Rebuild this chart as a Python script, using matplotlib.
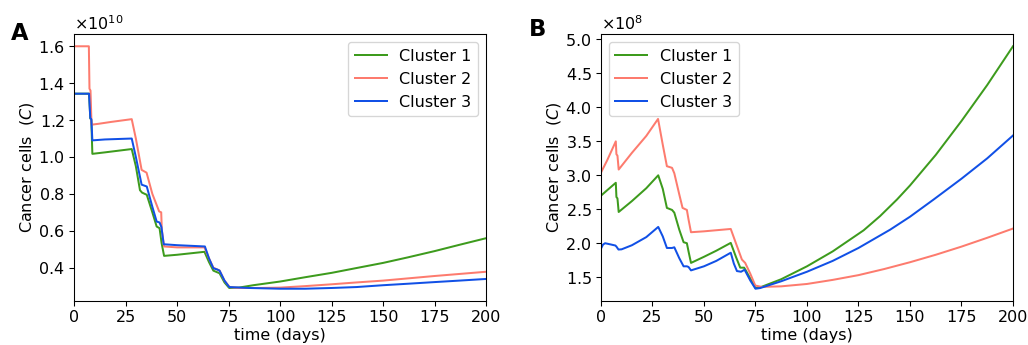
import numpy as np
import matplotlib
matplotlib.use('Agg')
import matplotlib.pyplot as plt
from matplotlib.ticker import ScalarFormatter

# Panel A: cancer cells (x1e10)
a1_t = [0, 7.3, 7.9, 8.4, 8.9, 15, 28, 30, 32, 33, 35.3, 38, 40.1, 41.5, 42.5, 43.7, 50, 63.3,
        65.5, 67.6, 69.5, 70.6, 73, 75.3, 80, 87, 100, 112, 125, 137, 150, 162, 175, 187, 200]
a1_v = [1.343, 1.343, 1.21, 1.20, 1.017, 1.025, 1.043, 0.95, 0.82, 0.807, 0.795, 0.70, 0.623, 0.614,
        0.533, 0.464, 0.47, 0.486, 0.43, 0.384, 0.375, 0.37, 0.32, 0.29, 0.292, 0.305, 0.325, 0.348,
        0.372, 0.398, 0.426, 0.456, 0.49, 0.524, 0.56]

a2_t = [0, 7.2, 7.5, 8.0, 8.5, 12, 18, 28, 30, 32.8, 35.2, 38, 41.3, 42.3, 42.6, 43.7, 50, 63.3,
        65.5, 67.6, 69.5, 70.6, 73, 75.5, 80, 90, 100, 112, 125, 137, 150, 162, 175, 187, 200]
a2_v = [1.60, 1.60, 1.37, 1.36, 1.175, 1.18, 1.19, 1.205, 1.10, 0.93, 0.915, 0.80, 0.705, 0.70,
        0.605, 0.515, 0.51, 0.51, 0.45, 0.40, 0.39, 0.385, 0.33, 0.295, 0.29, 0.29, 0.292, 0.30,
        0.31, 0.32, 0.33, 0.342, 0.355, 0.366, 0.378]

a3_t = [0, 7.3, 7.9, 8.4, 8.9, 15, 28, 30, 32.8, 35.3, 38, 40.1, 41.5, 42.4, 43.5, 50, 63.5,
        65.5, 67.6, 69.5, 70.6, 73, 75.3, 85, 100, 112, 125, 137, 150, 162, 175, 187, 200]
a3_v = [1.343, 1.343, 1.21, 1.205, 1.09, 1.095, 1.10, 1.0, 0.85, 0.84, 0.73, 0.65, 0.645, 0.62,
        0.527, 0.522, 0.515, 0.45, 0.397, 0.39, 0.384, 0.33, 0.295, 0.29, 0.286, 0.286, 0.29,
        0.295, 0.305, 0.313, 0.322, 0.33, 0.339]

# Panel B: cancer cells (x1e8)
b1_t = [0, 3, 7.2, 7.5, 8.0, 8.6, 15, 22, 27.8, 30, 32, 34.5, 35.6, 38, 40.1, 41.7, 42.5, 43.7,
        50, 56, 63, 65.5, 67.6, 69.5, 70.3, 73, 75, 77.3, 87.5, 100, 112.5, 127.5, 135.5, 143.7,
        150, 162.5, 175, 187.5, 200]
b1_v = [2.70, 2.78, 2.89, 2.68, 2.66, 2.46, 2.62, 2.81, 3.0, 2.80, 2.52, 2.49, 2.45, 2.20, 2.015,
        2.0, 1.88, 1.71, 1.80, 1.89, 2.005, 1.80, 1.64, 1.64, 1.60, 1.45, 1.34, 1.35, 1.47, 1.66,
        1.88, 2.19, 2.40, 2.644, 2.85, 3.30, 3.80, 4.33, 4.90]

b2_t = [0, 3, 7.2, 7.5, 8.0, 8.6, 15, 22, 27.7, 30, 32, 34.5, 35.6, 38, 39.6, 41.7, 42.5, 43.7,
        50, 63, 65.5, 68.4, 70, 72.5, 74.9, 78, 87.5, 100, 112.5, 125, 137.5, 150, 162.5, 175,
        187.5, 200]
b2_v = [3.04, 3.22, 3.50, 3.31, 3.29, 3.085, 3.33, 3.58, 3.83, 3.45, 3.134, 3.11, 3.03, 2.72,
        2.52, 2.49, 2.35, 2.162, 2.175, 2.21, 2.0, 1.76, 1.71, 1.55, 1.377, 1.357, 1.365, 1.40,
        1.46, 1.53, 1.62, 1.72, 1.83, 1.95, 2.08, 2.216]

b3_t = [0, 1, 2, 5, 7, 7.5, 8.5, 10, 15, 22, 27.8, 30, 32, 34.5, 35.6, 38, 40.1, 41.7, 42.5,
        43.7, 50, 56, 63, 64.5, 66, 68, 69.7, 72.5, 75, 77.3, 87.5, 100, 112.5, 125, 140.4, 150,
        161.5, 175, 187.5, 200]
b3_v = [1.92, 1.98, 2.0, 1.98, 1.966, 1.95, 1.907, 1.91, 1.97, 2.09, 2.24, 2.10, 1.93, 1.93,
        1.94, 1.78, 1.66, 1.66, 1.65, 1.60, 1.66, 1.74, 1.86, 1.70, 1.59, 1.58, 1.61, 1.45, 1.33,
        1.34, 1.44, 1.58, 1.74, 1.93, 2.20, 2.39, 2.644, 2.95, 3.25, 3.586]

labels = ['Cluster 1', 'Cluster 2', 'Cluster 3']
colors = ['#3d9b1d', '#fd7b6e', '#1150e6']

plt.rcParams['font.size'] = 12
fig = plt.figure(figsize=(1028 / 96, 345 / 96), dpi=96)
axA = fig.add_axes([0.072, 0.128, 0.401, 0.773])
axB = fig.add_axes([0.5846, 0.128, 0.4008, 0.773])

for t, v, lab, c in zip([a1_t, a2_t, a3_t], [a1_v, a2_v, a3_v], labels, colors):
    axA.plot(t, np.array(v) * 1e10, color=c, lw=1.5, label=lab)
for t, v, lab, c in zip([b1_t, b2_t, b3_t], [b1_v, b2_v, b3_v], labels, colors):
    axB.plot(t, np.array(v) * 1e8, color=c, lw=1.5, label=lab)

for ax in (axA, axB):
    ax.set_xlim(0, 200)
    ax.set_xticks(np.arange(0, 201, 25))
    ax.set_xlabel('time (days)', labelpad=2)
    ax.set_ylabel('Cancer cells  ($C$)', labelpad=2)
    fmt = ScalarFormatter(useMathText=True)
    ax.yaxis.set_major_formatter(fmt)

axA.set_yticks(np.arange(0.4, 1.61, 0.2) * 1e10)
axB.set_yticks(np.arange(1.5, 5.01, 0.5) * 1e8)

axA.legend(loc='upper right')
axB.legend(loc='upper left')

fig.text(0.011, 0.885, 'A', fontsize=17, fontweight='bold')
fig.text(0.514, 0.895, 'B', fontsize=17, fontweight='bold')

fig.savefig('out.png', dpi=96)
